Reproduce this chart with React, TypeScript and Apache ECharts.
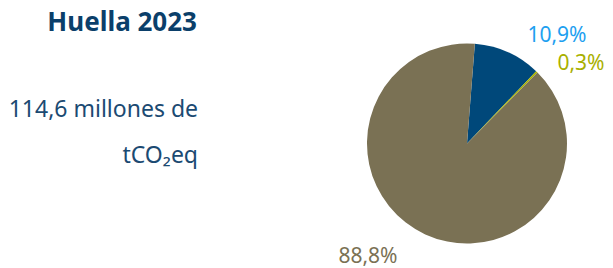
import React, { useEffect, useRef } from "react";
import * as echarts from "echarts";

const categories = ["Alcance A", "Alcance B", "Alcance C"];
const values = [10.9, 0.3, 88.8];
const sliceColors = ["#00487a", "#a9b300", "#7a7154"];
const labelColors = ["#1ea0f0", "#a9b000", "#7a7154"];
const title = "Huella 2023";
const totalLine1 = "114,6 millones de";
const totalValue = "tCO₂eq";

const labelPos = [
  { x: 557, y: 34 },
  { x: 581, y: 62 },
  { x: 368, y: 255 },
];

export default function App() {
  const ref = useRef<HTMLDivElement>(null);
  useEffect(() => {
    document.body.style.margin = "0";
    if (!ref.current) return;
    const chart = echarts.init(ref.current, undefined, { renderer: "svg" });
    const font = "'Noto Sans', sans-serif";
    chart.setOption({
      animation: false,
      graphic: [
        {
          type: "text",
          x: 197,
          y: 21,
          style: {
            text: title,
            fill: "#0b3f6a",
            font: `bold 26px ${font}`,
            textAlign: "right",
            textVerticalAlign: "middle",
          },
        },
        {
          type: "text",
          x: 198,
          y: 108,
          style: {
            text: totalLine1,
            fill: "#1b4a72",
            font: `23px ${font}`,
            textAlign: "right",
            textVerticalAlign: "middle",
          },
        },
        {
          type: "text",
          x: 198,
          y: 154,
          style: {
            text: totalValue,
            fill: "#1b4a72",
            font: `23px ${font}`,
            textAlign: "right",
            textVerticalAlign: "middle",
          },
        },
      ],
      series: [
        {
          type: "pie",
          center: [467, 143.5],
          radius: [0, 100],
          startAngle: 85.5,
          clockwise: true,
          silent: true,
          labelLine: { show: false },
          label: {
            show: true,
            position: "outside",
            overflow: "none",
            fontSize: 21,
            lineHeight: 22,
            fontFamily: "'Noto Sans', sans-serif",
            formatter: (p: any) => String(p.value).replace(".", ",") + "%",
          },
          labelLayout: (p: any) => ({
            x: labelPos[p.dataIndex].x,
            y: labelPos[p.dataIndex].y,
            align: "center",
            verticalAlign: "middle",
          }),
          itemStyle: { borderWidth: 0 },
          data: categories.map((name, i) => ({
            name,
            value: values[i],
            itemStyle: { color: sliceColors[i] },
            label: { color: labelColors[i] },
          })),
        },
      ],
    });
    return () => chart.dispose();
  }, []);
  return <div ref={ref} style={{ width: 613, height: 268 }} />;
}
